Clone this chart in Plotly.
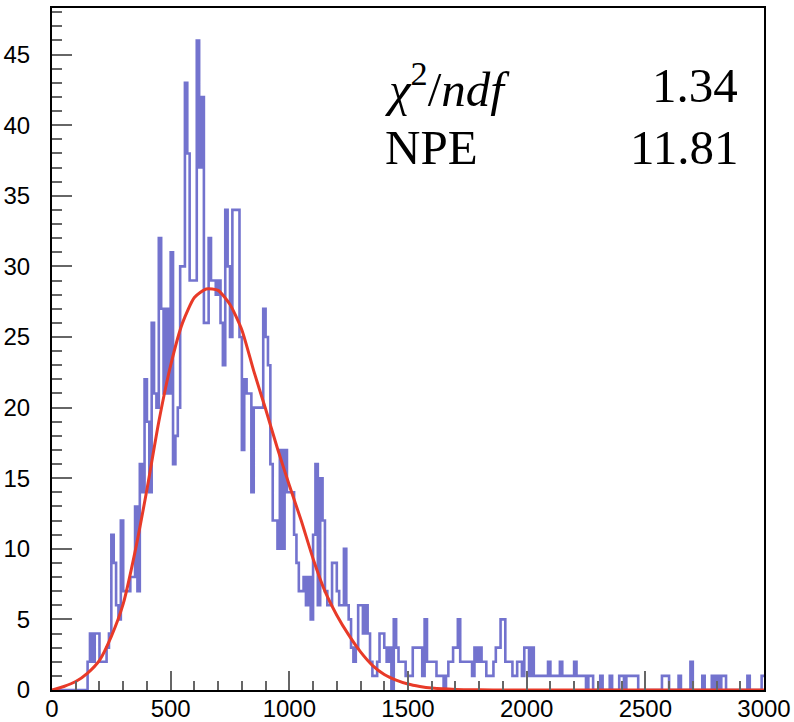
import plotly.graph_objects as go

# ---- data ----
bin_width = 10
x_min, x_max = 0, 3000
counts = [
    0, 0, 0, 0, 0, 0, 0, 0, 0, 0,
    0, 0, 0, 0, 0, 2, 4, 2, 4, 4,
    2, 2, 2, 3, 4, 11, 9, 6, 5, 12,
    7, 7, 7, 8, 8, 13, 7, 16, 14, 22,
    19, 14, 26, 21, 20, 32, 27, 21, 27, 21,
    31, 16, 18, 20, 30, 30, 43, 38, 29, 29,
    29, 46, 37, 42, 26, 26, 32, 29, 29, 28,
    29, 26, 23, 34, 30, 25, 34, 34, 34, 25,
    17, 22, 21, 21, 14, 20, 20, 20, 20, 27,
    25, 23, 16, 12, 12, 10, 17, 10, 17, 14,
    14, 14, 11, 9, 7, 7, 8, 6, 8, 5,
    11, 16, 6, 15, 12, 7, 6, 6, 9, 9,
    7, 6, 6, 10, 6, 5, 3, 2, 3, 6,
    6, 4, 6, 4, 2, 1, 1, 2, 4, 4,
    3, 2, 3, 0, 5, 3, 2, 2, 2, 1,
    1, 1, 3, 3, 3, 3, 1, 5, 2, 2,
    2, 2, 1, 1, 1, 0, 1, 2, 2, 3,
    3, 5, 2, 2, 2, 2, 2, 1, 3, 2,
    3, 2, 2, 1, 1, 1, 2, 3, 3, 5,
    5, 2, 2, 2, 1, 1, 2, 2, 1, 3,
    3, 1, 3, 1, 1, 1, 1, 1, 1, 2,
    1, 1, 1, 1, 2, 1, 1, 1, 1, 1,
    2, 1, 1, 1, 1, 0, 1, 1, 0, 0,
    0, 1, 0, 0, 0, 1, 0, 0, 0, 1,
    1, 0, 1, 1, 1, 1, 1, 0, 0, 0,
    0, 0, 0, 0, 0, 0, 0, 1, 1, 1,
    0, 0, 0, 0, 1, 0, 0, 0, 0, 2,
    0, 0, 0, 0, 1, 0, 0, 0, 1, 0,
    1, 0, 1, 1, 0, 0, 0, 0, 0, 0,
    0, 0, 0, 1, 0, 0, 0, 0, 0, 1,
]

fit_x = [0, 50, 100, 150, 200, 250, 300, 350, 400, 450, 500, 550, 600, 650,
         700, 750, 800, 850, 900, 950, 1000, 1050, 1100, 1150, 1200, 1250,
         1300, 1350, 1400, 1450, 1500, 1550, 1600, 1700, 1800, 1900, 3000]
fit_y = [0.0, 0.25, 0.6, 1.2, 2.1, 3.8, 6.1, 9.8, 14.2, 19.0, 23.0, 26.0, 27.8, 28.4,
         28.3, 27.3, 25.5, 22.6, 19.9, 17.1, 14.5, 12.0, 9.3, 7.0, 5.3, 3.9,
         2.7, 1.75, 1.1, 0.7, 0.42, 0.25, 0.14, 0.04, 0.01, 0.0, 0.0]

stat_labels = ["<i>χ</i><sup>2</sup>/<i>ndf</i>", "NPE"]
stat_values = ["1.34", "11.81"]

# ---- build figure ----
edges = [x_min + i * bin_width for i in range(len(counts))]
step_x = edges + [x_min + len(counts) * bin_width]
step_y = counts + [counts[-1]]

fig = go.Figure()
fig.add_trace(go.Scatter(
    x=step_x, y=step_y, mode="lines", line_shape="hv",
    line=dict(color="rgba(55,55,185,0.7)", width=2.6),
    hoverinfo="skip", showlegend=False,
))
fig.add_trace(go.Scatter(
    x=fit_x, y=fit_y, mode="lines", line_shape="spline",
    line=dict(color="rgb(232,58,40)", width=3, smoothing=0.6),
    hoverinfo="skip", showlegend=False,
))

ann_y = [0.886, 0.796]
for lab, val, yy in zip(stat_labels, stat_values, ann_y):
    fig.add_annotation(xref="paper", yref="paper", x=0.465, y=yy, text=lab,
                       showarrow=False, xanchor="left", yanchor="middle",
                       font=dict(family="Liberation Serif", size=49, color="black"))
    fig.add_annotation(xref="paper", yref="paper", x=0.966, y=yy, text=val,
                       showarrow=False, xanchor="right", yanchor="middle",
                       font=dict(family="Liberation Serif", size=49, color="black"))

fig.update_layout(
    width=794, height=722,
    margin=dict(l=52, r=30, t=8, b=32),
    paper_bgcolor="white", plot_bgcolor="white",
    font=dict(family="Liberation Sans", color="black"),
)
fig.update_xaxes(
    range=[x_min, x_max], tickmode="linear", tick0=0, dtick=500,
    ticks="inside", ticklen=19, tickwidth=2, tickcolor="#666",
    minor=dict(ticks="inside", ticklen=9, tickwidth=2, tickcolor="#666", dtick=100),
    showgrid=False, zeroline=False, showline=True, linecolor="black", linewidth=2,
    mirror=True, tickfont=dict(size=24, family="Liberation Sans"),
    ticklabelstandoff=-4, automargin=False,
)
fig.update_yaxes(
    range=[0, 48.3], tickmode="linear", tick0=0, dtick=5,
    ticks="inside", ticklen=20, tickwidth=2, tickcolor="#666",
    minor=dict(ticks="inside", ticklen=10, tickwidth=2, tickcolor="#666", dtick=1),
    showgrid=False, zeroline=False, showline=True, linecolor="black", linewidth=2,
    mirror=True, tickfont=dict(size=24, family="Liberation Sans"),
    ticklabelstandoff=15, automargin=False,
)

fig.write_html("out.html")
